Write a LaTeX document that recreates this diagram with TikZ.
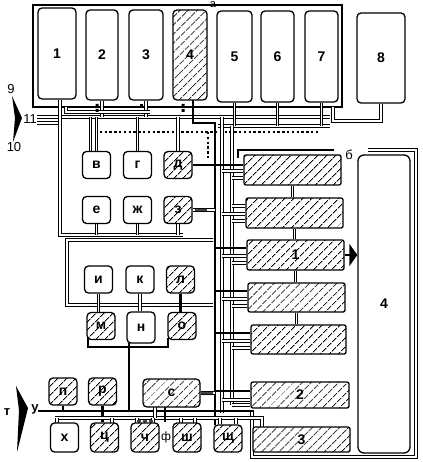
\documentclass[tikz,border=0pt]{standalone}
\usepackage{fontspec}
\setmainfont{Liberation Sans}
\usetikzlibrary{patterns.meta,arrows.meta,backgrounds}
\begin{document}
\begin{tikzpicture}[x=1pt,y=-1pt,
  bx/.style={draw,line width=1.3pt,rounded corners=4pt,inner sep=0pt,font=\fontsize{14}{16}\selectfont\bfseries},
  box/.style={bx,fill=white},
  hb/.style={bx,preaction={fill=white},pattern={Lines[angle=45,distance=6.5pt,line width=1pt]}},
  hr/.style={hb,rounded corners=2pt},
  sm/.style={minimum width=28pt,minimum height=27pt},
  wire/.style={double,double distance=1.5pt,line width=0.9pt},
  bus/.style={line width=2.8pt},
  sq/.style={line width=2.6pt,dash pattern=on 2.4pt off 2.4pt},
  ring/.style={line width=0.8pt,fill=white},
  lbl/.style={inner sep=0pt,font=\fontsize{13}{15}\selectfont}
]
\useasboundingbox (0,0) rectangle (422,462);

% ---- top row
\node[box,minimum width=38pt,minimum height=91pt] (b1) at (57,53.5) {1};
\node[box,minimum width=32pt,minimum height=90pt] (b2) at (102,55) {2};
\node[box,minimum width=34pt,minimum height=90pt] (b3) at (146,55) {3};
\node[hb,minimum width=34pt,minimum height=90pt] (b4) at (190,55) {4};
\node[box,minimum width=35pt,minimum height=91pt] (b5) at (234.5,56.5) {5};
\node[box,minimum width=33pt,minimum height=91pt] (b6) at (277.5,56.5) {6};
\node[box,minimum width=33pt,minimum height=91pt] (b7) at (321.5,56.5) {7};
\node[box,minimum width=48pt,minimum height=90pt] (b8) at (381,58) {8};

% ---- small boxes
\node[box,sm] (nv) at (96.5,165) {в};
\node[box,sm] (ng) at (137.5,165) {г};
\node[hb,sm] (nd) at (178,165) {д};
\node[box,sm] (ne) at (96.5,210) {е};
\node[box,sm] (nzh) at (137.5,210) {ж};
\node[hb,sm] (nz) at (178,210) {з};
\node[box,sm] (ni) at (98.5,279.5) {и};
\node[box,sm] (nk) at (140,279.5) {к};
\node[hb,sm] (nl) at (180.5,279.5) {л};
\node[hb,sm] (nm) at (101,326) {м};
\node[box,sm,minimum height=31pt] (nn) at (141,327.5) {н};
\node[hb,sm] (no) at (182,326) {о};
\node[hb,sm] (np) at (63,391.5) {п};
\node[hb,sm] (nr) at (102.5,391.5) {р};
\node[hb,minimum width=57pt,minimum height=28pt] (ns) at (171.5,393) {с};
\node[box,sm,minimum height=29pt] (nx) at (64.5,437.5) {х};
\node[hb,sm,minimum height=29pt] (nc) at (104.5,437.5) {ц};
\node[hb,sm,minimum height=29pt] (nch) at (145,437.5) {ч};
\node[hb,sm,minimum height=29pt] (nsh) at (187,437.5) {ш};
\node[hb,sm] (nshch) at (228,438.5) {щ};

% ---- right column
\node[hr,minimum width=97pt,minimum height=30pt] (rA) at (292.5,170) {};
\node[hr,minimum width=97pt,minimum height=30pt] (rB) at (294.5,213) {};
\node[hr,minimum width=97pt,minimum height=30pt] (rC) at (295.5,255) {1};
\node[hr,minimum width=97pt,minimum height=29pt] (rD) at (296.5,297.5) {};
\node[hr,minimum width=95pt,minimum height=29pt] (rE) at (298.5,339.5) {};
\node[hr,minimum width=98pt,minimum height=26pt] (rF) at (300,395) {2};
\node[hr,minimum width=97pt,minimum height=25pt] (rG) at (301.5,439.5) {3};
\node[box,minimum width=52pt,minimum height=298pt,rounded corners=6pt] (r4) at (384,304) {4};

% ---- labels
\node[lbl,font=\fontsize{11}{13}\selectfont] (la) at (213,5) {а};
\node[lbl] (lb) at (349,155) {б};
\node[lbl] (l9) at (11,89) {9};
\node[lbl] (l10) at (14,147) {10};
\node[lbl] (l11) at (30,119) {11};
\node[lbl,font=\fontsize{13}{15}\selectfont\bfseries] (lt) at (7,412) {т};
\node[lbl,font=\fontsize{13}{15}\selectfont\bfseries] (lu) at (35,409) {у};
\node[lbl,font=\fontsize{12}{14}\selectfont] (lf) at (166,437) {ф};

% arrow markers
\fill (12,96) -- (22,118) -- (13,142) -- (15,118) -- cycle;
\fill (16,386) -- (28,408) -- (17,452) -- (19,410) -- cycle;
\draw[bus,-{Triangle[length=8pt,width=22pt]}] (rC.east) -- (rC.east -| r4.west);

\begin{scope}[on background layer]
  % frames
  \draw[line width=1.2pt] (33,5) rectangle (342,107);
  \draw[line width=1.2pt] (238,158) -- (238,150) -- (334,150);
  \draw[wire] (368,150) -- (416,150) -- (416,457) -- (252,457) -- (252,411);
  % top horizontals
  \coordinate (h1) at (37,117);
  \coordinate (h2) at (218,126);
  \draw[wire] (h1) -- (330,117);
  \draw[wire] (37,123) -- (60,123);
  \draw[wire] (h2) -- (330,126);
  \draw[wire] (b2.south) -- (b2.south |- h1);
  \draw[wire] (b3.south) -- (b3.south |- h1);
  \draw[wire] (b5.south) -- (b5.south |- h2);
  \draw[wire] (b6.south) -- (b6.south |- h2);
  \draw[wire] (b7.south) -- (b7.south |- h2);
  \draw[wire] (b8.south) -- (381,121) -- (333,121) -- (333,107);
  \draw[wire] (66,107) -- (66,112) -- (150,112);
  \fill (95.5,104) rectangle (98.5,107) (95.5,109) rectangle (98.5,112);
  \fill (181.5,104) rectangle (184.5,107) (181.5,109) rectangle (184.5,112);
  \fill (139.5,104) rectangle (142.5,107);
  % dotted line
  \draw[sq] (95,132) -- (318,132);
  \draw[sq] (208,132) -- (208,158);
  % left vertical and e-zh-z return
  \coordinate (v1) at (60,235);
  \draw[wire] (b1.south -| v1) -- (v1) -- (183,235);
  \draw[wire] (nv.north) -- (nv.north |- h1);
  \draw[wire] (ng.north) -- (ng.north |- h1);
  \draw[wire] (nd.north) -- (nd.north |- h1);
  \draw[wire] ([xshift=-6pt]nv.north) -- ([xshift=-6pt]nv.north |- h1);
  \draw[wire] (ne.south) -- (ne.south |- v1);
  \draw[wire] (nzh.south) -- (nzh.south |- v1);
  \draw[wire] (nz.south) -- (nz.south |- v1);
  % i-k-l frame
  \draw[wire] (213,240) -- (67,240) -- (67,305) -- (213,305);
  \draw[wire] (ni.south) -- (ni.south |- nm.north);
  \draw[wire] (nk.south) -- (nk.south |- nn.north);
  % companion wires along the bus
  \draw[wire] (222,117) -- (222,413);
  \draw[wire] (232,126) -- (232,405);
  \foreach \y/\b in {171/rA,214/rB,256/rC,299/rD,341/rE,400/rF}
    \draw[wire] (222,\y) -- (\b.west |- 0,\y);
  \foreach \y/\b in {178/rA,221/rB,263/rC,306/rD,348/rE,405/rF}
    \draw[wire] (232,\y) -- (\b.west |- 0,\y);
  \draw[wire] (232,206) -- (rB.west |- 0,206);
  % links between hatched boxes
  \draw[wire] (rA.south) -- (rA.south |- rB.north);
  \draw[wire] (rB.south) -- (rB.south |- rC.north);
  \draw[wire] (rC.south) -- (rC.south |- rD.north);
  \draw[wire] (rD.south) -- (rD.south |- rE.north);
  % main thick bus
  \coordinate (t4) at (193,99);
  \coordinate (bx) at (215,123);
  \draw[bus] (t4) -- (193,123) -- (bx) -- (215,425);
  \draw[bus] (nd.east) -- (nd.east -| rA.west);
  \draw[bus] (bx |- 0,248) -- (rC.west |- 0,248);
  \draw[bus] (bx |- 0,291) -- (rD.west |- 0,291);
  \draw[bus] (bx |- 0,333) -- (rE.west |- 0,333);
  \draw[bus] (bx |- 0,391) -- (rF.west |- 0,391);
  \draw[bus] (nl.south) -- (nl.south |- no.north);
  \draw[bus] (88,338) -- (88,347) -- (168,347) -- (168,338);
  \draw[bus] (129,343) -- (129,411);
  % bottom lines
  \coordinate (hb0) at (38,411);
  \draw[bus] (hb0) -- (254,411);
  \draw[bus] (np.south) -- (np.south |- hb0);
  \draw[bus] (nr.south) -- (nr.south |- nc.north);
  \coordinate (h4) at (55,418);
  \draw[wire] (h4) -- (262,418) -- (262,427);
  \foreach \x in {57,112,137,153,181,195,220,236}
    \draw[wire] (\x,418) -- (\x,424);
  \draw[wire] (155,407) -- (155,418);
  \draw[bus] (165,407) -- (165,422);
  \draw[wire] (ns.east) -- (ns.east -| bx);
  \draw[wire] (nz.east) -- (nz.east -| bx);
\end{scope}
% small rings
\foreach \x in {197,201,205} \draw[ring] (\x,210) circle (1.5pt);
\foreach \x in {203,207,211} \draw[ring] (\x,393) circle (1.5pt);
\foreach \x in {139,145,151} \draw[ring] (\x,421) circle (1.5pt);
\end{tikzpicture}
\end{document}
